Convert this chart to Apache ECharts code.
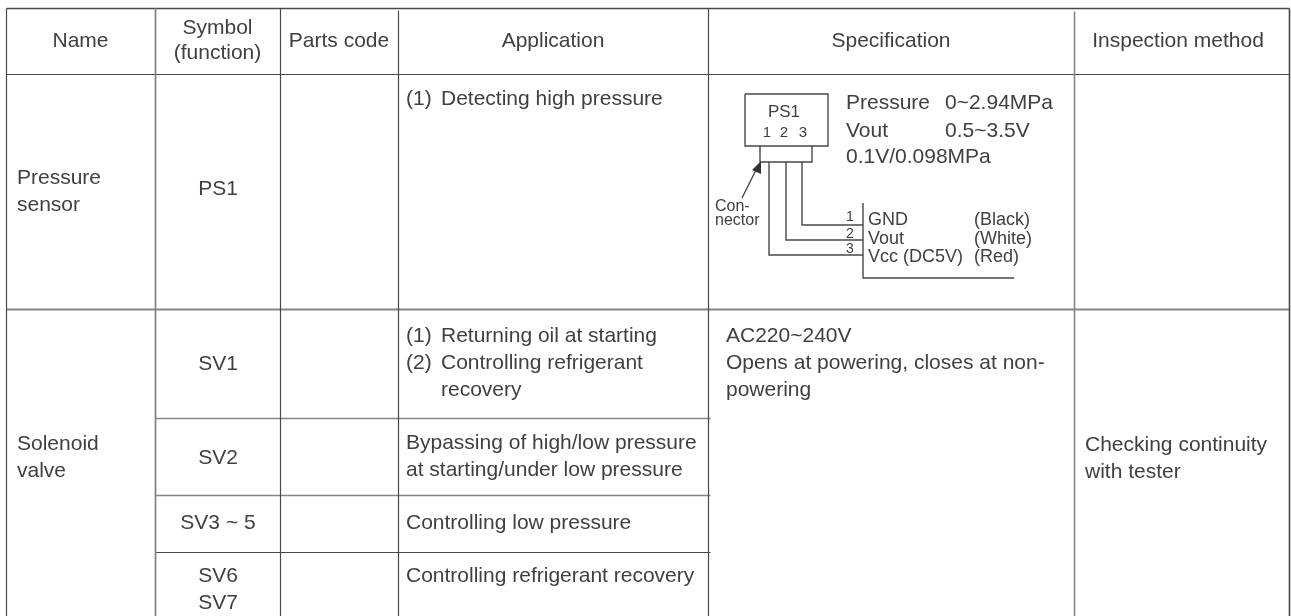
<!DOCTYPE html>
<html>
<head>
<meta charset="utf-8">
<script src="https://cdn.jsdelivr.net/npm/echarts@6/dist/echarts.min.js"></script>
<style>
  html, body { margin: 0; padding: 0; background: #fff; }
  #chart { width: 1291px; height: 616px; }
</style>
</head>
<body>
<div id="chart"></div>
<script>
// table text
const headerLabels = ['Name', 'Symbol\n(function)', 'Parts code', 'Application', 'Specification', 'Inspection method']
const nameLabels = ['Pressure\nsensor', 'Solenoid\nvalve']
const symbolLabels = ['PS1', 'SV1', 'SV2', 'SV3 ~ 5', 'SV6\nSV7']
const applicationLabels = [
  '(1)|Detecting high pressure',
  '(1)|Returning oil at starting\n(2)|Controlling refrigerant',
  'recovery',
  'Bypassing of high/low pressure\nat starting/under low pressure',
  'Controlling low pressure',
  'Controlling refrigerant recovery'
]
const specificationLabels = ['AC220~240V\nOpens at powering, closes at non-\npowering']
const inspectionLabels = ['Checking continuity\nwith tester']

// sensor diagram text
const sensorLabels = ['PS1', '1', '2', '3']
const readingLabels = ['Pressure', '0~2.94MPa', 'Vout', '0.5~3.5V', '0.1V/0.098MPa']
const connectorLabel = 'Con-\nnector'
const pinLabels = ['1', '2', '3']
const wireLabels = ['GND', 'Vout', 'Vcc (DC5V)']
const wireColors = ['(Black)', '(White)', '(Red)']

// table layout, in axis units (same as px here)
const colEdges = [6, 155, 280, 398, 708, 1074, 1289]
const rowEdges = [8, 74, 309, 418, 495, 552, 616]
const ink = '#404040'
const dark = '#484848'
const soft = '#858585'
const font = 'Liberation Sans'
const itemIndent = 35

const hLine = (y, x0, x1, w, c) => ({ value: [x0, y, x1, y, w], color: c })
const vLine = (x, y0, y1, w, c) => ({ value: [x, y0, x, y1, w], color: c })

const ruleData = [
  hLine(rowEdges[0], colEdges[0], colEdges[6], 1.6, dark),
  hLine(rowEdges[1], colEdges[0], colEdges[6], 1.2, dark),
  hLine(rowEdges[2], colEdges[0], colEdges[6], 1.8, soft),
  hLine(rowEdges[3], colEdges[1], colEdges[4] + 2, 1.6, soft),
  hLine(rowEdges[4], colEdges[1], colEdges[4] + 2, 1.6, soft),
  hLine(rowEdges[5], colEdges[1], colEdges[4] + 2, 1.2, dark),
  vLine(colEdges[0], rowEdges[0], rowEdges[6], 1.2, dark),
  vLine(colEdges[1], rowEdges[0], rowEdges[6], 1.8, soft),
  vLine(colEdges[2], rowEdges[0], rowEdges[6], 1.2, dark),
  vLine(colEdges[3], rowEdges[0] + 2, rowEdges[6], 1.2, dark),
  vLine(colEdges[4], rowEdges[0], rowEdges[6], 1.2, dark),
  vLine(colEdges[5], rowEdges[0] + 3, rowEdges[6], 1.6, soft),
  vLine(colEdges[6], rowEdges[0], rowEdges[6], 1.6, dark)
]

// sensor diagram outlines
const diagramPaths = [
  [[745, 94], [828, 94], [828, 146], [745, 146], [745, 94]],
  [[760, 146], [760, 162], [812, 162], [812, 146]],
  [[802, 162], [802, 225], [863, 225]],
  [[786, 162], [786, 240], [863, 240]],
  [[769, 162], [769, 255], [863, 255]],
  [[863, 203], [863, 278], [1014, 278]],
  [[742, 198], [757, 168]]
]
const arrowHead = [[761, 161], [752, 170], [761, 174]]

const textItem = (text, x, y, size, align, lh) => ({ text, x, y, size, align: align || 'left', lh: lh || 27 })
const midX = i => (colEdges[i] + colEdges[i + 1]) / 2

const textData = [
  textItem(headerLabels[0], midX(0), 41, 21, 'center'),
  textItem(headerLabels[1], midX(1), 28, 21, 'center', 25),
  textItem(headerLabels[2], midX(2), 41, 21, 'center'),
  textItem(headerLabels[3], midX(3), 41, 21, 'center'),
  textItem(headerLabels[4], midX(4), 41, 21, 'center'),
  textItem(headerLabels[5], 1178, 41, 21, 'center'),
  textItem(nameLabels[0], 17, 178, 21),
  textItem(nameLabels[1], 17, 444, 21),
  textItem(symbolLabels[0], 218, 189, 21, 'center'),
  textItem(symbolLabels[1], 218, 364, 21, 'center'),
  textItem(symbolLabels[2], 218, 458, 21, 'center'),
  textItem(symbolLabels[3], 218, 523, 21, 'center'),
  textItem(symbolLabels[4], 218, 576, 21, 'center'),
  textItem(applicationLabels[0], 406, 99, 21),
  textItem(applicationLabels[1], 406, 336, 21),
  textItem(applicationLabels[2], 406 + itemIndent, 390, 21),
  textItem(applicationLabels[3], 406, 443, 21),
  textItem(applicationLabels[4], 406, 523, 21),
  textItem(applicationLabels[5], 406, 576, 21),
  textItem(specificationLabels[0], 726, 336, 21),
  textItem(inspectionLabels[0], 1085, 445, 21),
  textItem(sensorLabels[0], 784, 112, 17, 'center'),
  textItem(sensorLabels[1], 767, 133, 15, 'center'),
  textItem(sensorLabels[2], 784, 133, 15, 'center'),
  textItem(sensorLabels[3], 803, 133, 15, 'center'),
  textItem(readingLabels[0], 846, 103, 21),
  textItem(readingLabels[1], 945, 103, 21),
  textItem(readingLabels[2], 846, 131, 21),
  textItem(readingLabels[3], 945, 131, 21),
  textItem(readingLabels[4], 846, 157, 21),
  textItem(connectorLabel, 715, 207, 16, 'left', 14),
  textItem(pinLabels[0], 850, 217, 14, 'center'),
  textItem(pinLabels[1], 850, 234, 14, 'center'),
  textItem(pinLabels[2], 850, 249, 14, 'center'),
  textItem(wireLabels[0], 868, 220, 18),
  textItem(wireLabels[1], 868, 239, 18),
  textItem(wireLabels[2], 868, 257, 18),
  textItem(wireColors[0], 974, 220, 18),
  textItem(wireColors[1], 974, 239, 18),
  textItem(wireColors[2], 974, 257, 18)
]

const chart = echarts.init(document.getElementById('chart'), null, { renderer: 'canvas' })

chart.setOption({
  animation: false,
  backgroundColor: '#fff',
  tooltip: { show: false },
  grid: { left: 0, right: 0, top: 0, bottom: 0 },
  xAxis: { type: 'value', min: 0, max: 1291, show: false },
  yAxis: { type: 'value', min: 0, max: 616, inverse: true, show: false },
  series: [
    {
      name: 'rules',
      type: 'custom',
      silent: true,
      data: ruleData.map(r => r.value),
      renderItem (params, api) {
        const a = api.coord([api.value(0), api.value(1)])
        const b = api.coord([api.value(2), api.value(3)])
        return {
          type: 'line',
          shape: { x1: a[0] + 0.5, y1: a[1] + 0.5, x2: b[0] + 0.5, y2: b[1] + 0.5 },
          style: { stroke: ruleData[params.dataIndex].color, lineWidth: api.value(4) }
        }
      }
    },
    {
      name: 'diagram',
      type: 'custom',
      silent: true,
      data: diagramPaths.map((p, i) => [i]),
      renderItem (params, api) {
        const pts = diagramPaths[api.value(0)].map(p => api.coord(p))
        const children = [{
          type: 'polyline',
          shape: { points: pts },
          style: { stroke: dark, lineWidth: 1.4, fill: null }
        }]
        if (params.dataIndex === diagramPaths.length - 1) {
          children.push({
            type: 'polygon',
            shape: { points: arrowHead.map(p => api.coord(p)) },
            style: { fill: '#333' }
          })
        }
        return { type: 'group', children }
      }
    },
    {
      name: 'text',
      type: 'custom',
      silent: true,
      data: textData.map((t, i) => [i]),
      renderItem (params, api) {
        const t = textData[api.value(0)]
        const pos = api.coord([t.x, t.y])
        const children = []
        t.text.split('\n').forEach((line, i) => {
          // "(1)|text" puts the item text on its own indent
          line.split('|').forEach((part, j) => {
            children.push({
              type: 'text',
              style: {
                text: part,
                x: pos[0] + j * itemIndent,
                y: pos[1] + i * t.lh,
                fill: ink,
                font: t.size + 'px "' + font + '"',
                align: t.align,
                verticalAlign: 'middle'
              }
            })
          })
        })
        return { type: 'group', children }
      }
    }
  ]
})
</script>
</body>
</html>
